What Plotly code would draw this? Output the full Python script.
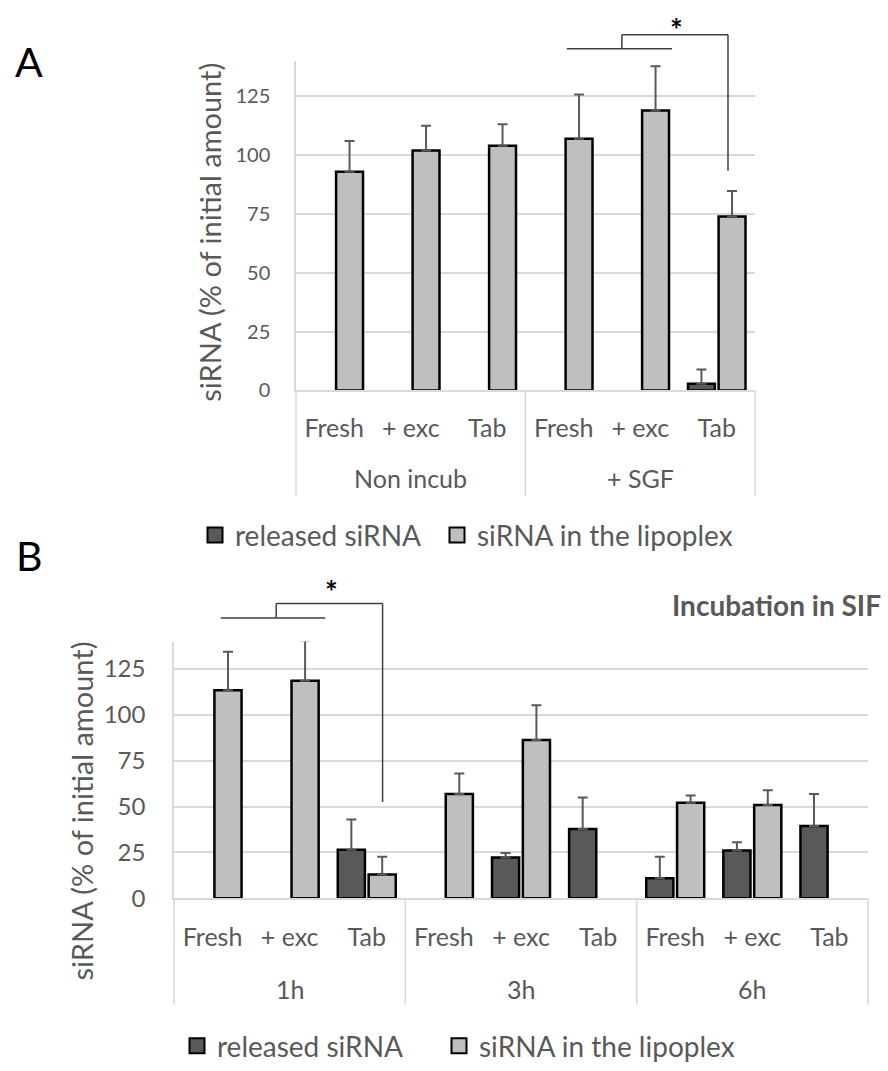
import plotly.graph_objects as go

# ---------------- data ----------------
subcats = ["Fresh", "+ exc", "Tab"]
groups_a = ["Non incub", "+ SGF"]
groups_b = ["1h", "3h", "6h"]

series_names = ["released siRNA", "siRNA in the lipoplex"]

# Panel A (None = no bar)
a_released = [None, None, None, None, None, 2.9]
a_released_err = [0, 0, 0, 0, 0, 6]
a_lipoplex = [93, 102, 104, 107, 119, 74]
a_lipoplex_err = [13, 10.5, 9.2, 18.8, 18.8, 10.8]

# Panel B
b_released = [None, None, 26.5, None, 22.2, 37.8, 10.9, 26, 39.4]
b_released_err = [0, 0, 16.5, 0, 2.5, 17.2, 11.7, 4.5, 17.4]
b_lipoplex = [113.4, 118.6, 12.9, 56.8, 86.3, None, 52.1, 50.9, None]
b_lipoplex_err = [21, 22, 9.7, 11.3, 19, 0, 3.9, 8, 0]

y_ticks = [0, 25, 50, 75, 100, 125]
y_max = 140

# ---------------- style / page geometry ----------------
W, H = 888, 1071
FONT = "Lato"
GRAY_TXT = "#595959"
GRID = "#D9D9D9"
DARK = "#595959"
LIGHT = "#BFBFBF"


def px_x(p):
    return p / W


def px_y(p):
    return 1 - p / H


n_a = len(groups_a) * len(subcats)
n_b = len(groups_b) * len(subcats)
pos_a = list(range(n_a))
pos_b = list(range(n_b))

fig = go.Figure()


def add_bars(x, vals, errs, name, color, xaxis, yaxis, legend):
    fig.add_trace(go.Bar(
        x=x, y=vals, name=name, xaxis=xaxis, yaxis=yaxis, showlegend=False,
        marker=dict(color=color, line=dict(color="black", width=2.5)),
        error_y=dict(type="data", symmetric=False, array=errs,
                     arrayminus=[0] * len(errs), color="#595959",
                     thickness=2, width=5),
    ))
    # legend entry with a larger square swatch (Excel-like)
    fig.add_trace(go.Scatter(
        x=[None], y=[None], name=name, xaxis=xaxis, yaxis=yaxis, legend=legend,
        mode="markers", hoverinfo="skip",
        marker=dict(symbol="square", size=15, color=color,
                    line=dict(color="black", width=2)),
    ))


add_bars(pos_a, a_released, a_released_err, series_names[0], DARK, "x", "y", "legend")
add_bars(pos_a, a_lipoplex, a_lipoplex_err, series_names[1], LIGHT, "x", "y", "legend2")
add_bars(pos_b, b_released, b_released_err, series_names[0], DARK, "x2", "y2", "legend3")
add_bars(pos_b, b_lipoplex, b_lipoplex_err, series_names[1], LIGHT, "x2", "y2", "legend4")

TICK_SIZE = 25


def xaxis_cfg(domain, anchor, n, ncat_labels, standoff):
    return dict(
        domain=domain, anchor=anchor, range=[-0.5, n - 0.5],
        tickvals=list(range(n)), ticktext=ncat_labels,
        showline=True, linecolor=GRID, linewidth=1.5, showgrid=False,
        zeroline=False, ticks="", ticklabelstandoff=standoff,
        tickfont=dict(family=FONT, size=TICK_SIZE, color=GRAY_TXT),
    )


yaxis_common = dict(
    range=[0, y_max], tickvals=y_ticks, showgrid=True, gridcolor=GRID,
    gridwidth=1.5, zeroline=False, showline=True, linecolor=GRID, linewidth=1.5,
    ticks="",
)

legend_common = dict(
    orientation="h", font=dict(family=FONT, size=28, color=GRAY_TXT),
    bgcolor="rgba(0,0,0,0)", xanchor="left", yanchor="middle",
    itemclick=False, itemdoubleclick=False,
)

fig.update_layout(
    width=W, height=H, margin=dict(l=0, r=0, t=0, b=0, pad=0),
    paper_bgcolor="white", plot_bgcolor="white",
    barmode="group", bargap=0.2, bargroupgap=0.12,
    showlegend=True,
    xaxis=xaxis_cfg([px_x(296), px_x(755)], "y", n_a, subcats * len(groups_a), 15),
    yaxis=dict(domain=[px_y(396), px_y(62)], anchor="x",
               tickfont=dict(family=FONT, size=20, color=GRAY_TXT),
               ticklabelstandoff=20, **yaxis_common),
    xaxis2=xaxis_cfg([px_x(174), px_x(868)], "y2", n_b, subcats * len(groups_b), 16),
    yaxis2=dict(domain=[px_y(911), px_y(650.7)], anchor="x2",
                tickfont=dict(family=FONT, size=24, color=GRAY_TXT),
                ticklabelstandoff=22, **yaxis_common),
    legend=dict(x=px_x(195), y=px_y(543), **legend_common),
    legend2=dict(x=px_x(437), y=px_y(543), **legend_common),
    legend3=dict(x=px_x(177), y=px_y(1061), **legend_common),
    legend4=dict(x=px_x(439), y=px_y(1061), **legend_common),
)


# group labels and dividers below each x axis
def group_axis(xd, groups, axis_px, label_px, bottom_px):
    ng = len(groups)
    for i, g in enumerate(groups):
        fig.add_annotation(text=g, xref=xd, yref="paper", x=(i + 0.5) / ng,
                           y=px_y(label_px), xanchor="center", yanchor="middle",
                           showarrow=False,
                           font=dict(family=FONT, size=TICK_SIZE, color=GRAY_TXT))
    for i in range(ng + 1):
        fig.add_shape(type="line", xref=xd, yref="paper", x0=i / ng, x1=i / ng,
                      y0=px_y(axis_px), y1=px_y(bottom_px),
                      line=dict(color=GRID, width=1.5))


group_axis("x domain", groups_a, 396, 485, 503)
group_axis("x2 domain", groups_b, 911, 1003, 1019)

# y-axis titles
for (cx, cy) in [(210, 236), (81, 823)]:
    fig.add_annotation(
        text="siRNA (% of initial amount)", textangle=-90,
        x=px_x(cx), y=px_y(cy), xref="paper", yref="paper",
        xanchor="center", yanchor="middle",
        showarrow=False, font=dict(family=FONT, size=29, color=GRAY_TXT),
    )

# panel letters
for letter, (cx, cy) in [("A", (29, 62)), ("B", (29, 563))]:
    fig.add_annotation(text=letter, x=px_x(cx), y=px_y(cy), xref="paper", yref="paper",
                       xanchor="center", yanchor="middle", showarrow=False,
                       font=dict(family=FONT, size=41, color="black"))

# chart title B
fig.add_annotation(text="<b>Incubation in SIF</b>", x=px_x(883), y=px_y(614),
                   xref="paper", yref="paper", xanchor="right", yanchor="middle",
                   showarrow=False, font=dict(family=FONT, size=28, color=GRAY_TXT))


# significance brackets (x in category index units, y in data units)
def bracket(xd, yd, ncat, x1, x2, xmid, xright, y_low, y_high, y_end, star_x, star_y):
    def fx(c):
        return (c + 0.5) / ncat

    def fy(v):
        return v / y_max

    line = dict(color="#404040", width=1.5)
    fig.add_shape(type="line", xref=xd, yref=yd, x0=fx(x1), x1=fx(x2),
                  y0=fy(y_low), y1=fy(y_low), line=line)
    fig.add_shape(type="line", xref=xd, yref=yd, x0=fx(xmid), x1=fx(xmid),
                  y0=fy(y_low), y1=fy(y_high), line=line)
    fig.add_shape(type="line", xref=xd, yref=yd, x0=fx(xmid), x1=fx(xright),
                  y0=fy(y_high), y1=fy(y_high), line=line)
    fig.add_shape(type="line", xref=xd, yref=yd, x0=fx(xright), x1=fx(xright),
                  y0=fy(y_high), y1=fy(y_end), line=line)
    fig.add_annotation(text="<b>*</b>", xref=xd, yref=yd, x=fx(star_x), y=fy(star_y),
                       xanchor="center", yanchor="middle",
                       showarrow=False, font=dict(family=FONT, size=30, color="black"))


bracket("x domain", "y domain", n_a, 3.04, 4.415, 3.76, 5.147, 145.3, 151.2, 93.4, 4.48, 153.7)
bracket("x2 domain", "y2 domain", n_b, 0.106, 1.461, 0.825, 2.205, 152.8, 160.8, 52.5, 1.539, 167.6)

# remove the default page margin so the figure sits exactly in the window
fig.write_html("out.html", config={"displayModeBar": False},
               post_script="document.body.style.margin='0';")
